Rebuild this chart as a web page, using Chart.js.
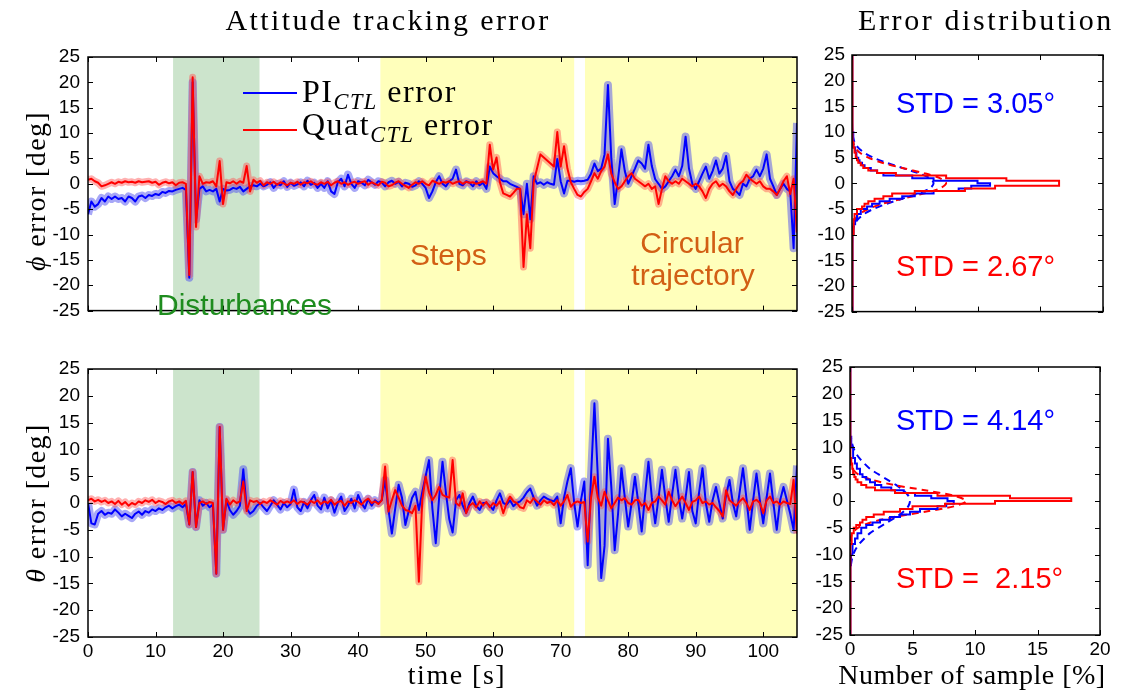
<!DOCTYPE html>
<html>
<head>
<meta charset="utf-8">
<script src="https://cdn.jsdelivr.net/npm/chart.js@4.4.1/dist/chart.umd.min.js"></script>
<style>
body { margin: 0; background: #fff; width: 1122px; height: 693px; position: relative; overflow: hidden; font-family: "Liberation Sans", Arial, sans-serif; }
canvas { position: absolute; }
.t { position: absolute; white-space: nowrap; line-height: 1; }
.serif { font-family: "Liberation Serif", "Times New Roman", serif; color: #000; }
.sans { font-family: "Liberation Sans", Arial, sans-serif; }
sub { font-style: italic; font-size: 70%; vertical-align: -0.3em; line-height: 0; }
.lg { position: absolute; height: 2px; }
</style>
</head>
<body>
<canvas id="phiChart" width="805" height="330" style="left:0;top:0"></canvas>
<canvas id="thetaChart" width="805" height="353" style="left:0;top:340px"></canvas>
<canvas id="phiHist" width="316" height="330" style="left:806px;top:0"></canvas>
<canvas id="thetaHist" width="316" height="353" style="left:806px;top:340px"></canvas>

<div class="t serif" style="left:388px;top:5px;font-size:30px;letter-spacing:2.4px;transform:translateX(-50%)">Attitude tracking error</div>
<div class="t serif" style="left:986px;top:5px;font-size:30px;letter-spacing:2.6px;transform:translateX(-50%)">Error distribution</div>
<div class="t serif" style="left:36px;top:191px;font-size:28px;letter-spacing:1.4px;transform:translate(-50%,-50%) rotate(-90deg)"><i>ϕ</i> error [deg]</div>
<div class="t serif" style="left:36px;top:503px;font-size:28px;letter-spacing:1.4px;transform:translate(-50%,-50%) rotate(-90deg)"><i>θ</i> error [deg]</div>
<div class="t serif" style="left:457px;top:661px;font-size:28px;letter-spacing:1.5px;transform:translateX(-50%)">time [s]</div>
<div class="t serif" style="left:972px;top:661px;font-size:28px;letter-spacing:0.5px;transform:translateX(-50%)">Number of sample [%]</div>

<div class="lg" style="left:243px;top:92px;width:54px;background:#0000ff"></div>
<div class="t serif" style="left:302px;top:75px;font-size:32px;letter-spacing:1.5px">PI<sub>CTL</sub> error</div>
<div class="lg" style="left:243px;top:129px;width:54px;background:#ff0000"></div>
<div class="t serif" style="left:302px;top:108px;font-size:32px;letter-spacing:1.5px">Quat<sub>CTL</sub> error</div>

<div class="t sans" style="left:157px;top:290px;font-size:30px;color:#1e8c1e">Disturbances</div>
<div class="t sans" style="left:410px;top:240px;font-size:30px;color:#d25f14">Steps</div>
<div class="t sans" style="left:692px;top:228px;font-size:30px;color:#d25f14;transform:translateX(-50%)">Circular</div>
<div class="t sans" style="left:693px;top:260px;font-size:30px;color:#d25f14;transform:translateX(-50%)">trajectory</div>

<div class="t sans" style="left:896px;top:89px;font-size:29px;color:#0000ff">STD = 3.05°</div>
<div class="t sans" style="left:896px;top:252px;font-size:29px;color:#ff0000">STD = 2.67°</div>
<div class="t sans" style="left:896px;top:406px;font-size:29px;color:#0000ff">STD = 4.14°</div>
<div class="t sans" style="left:896px;top:564px;font-size:29px;color:#ff0000">STD = &nbsp;2.15°</div>

<script>
// sample grid of the recorded runs
const sampleStep = 0.5;
const sampleCount = 211;

// roll error, PI controller (deg), one row = 5 s
const phiPI = [
  -6, -3.5, -4.5, -4, -2.8, -3.5, -2.5, -3, -2.5, -3,
  -2.8, -3.5, -2.5, -2.8, -3.5, -2.5, -2.3, -2.8, -2.2, -2.4,
  -2, -2.2, -1.6, -1.8, -1.4, -1.5, -1.2, -1.0, -0.8, -1.2,
  -18.5, 20, -7, -1, -0.5, -1.5, -1.2, -1.5, -1.0, -3.5,
  -1.0, -1.3, -1.2, -0.8, -1.0, -0.6, -1.5, -1.0, -0.5, -0.3,
  -0.5, 0, -0.5, -0.2, 0.3, -0.8, 0.0, -0.3, 0.5, -0.6,
  0.2, -0.4, -0.1, 0.3, -0.5, 0.6, -0.2, 0.2, -0.8, 0.0,
  -0.8, 0.5, -1.5, -2.0, 0.3, 1.0, -0.5, 1.8, 0.0, -0.8,
  0.5, 0.2, -0.3, 0.8, 0.3, -0.2, 0.5, 0.3, -0.5, 0.3,
  0.6, 0.0, 0.4, -0.5, 0.2, 0.0, -0.6, -0.3, 0.5, 0.0,
  -0.8, -2.8, -1.5, 0.3, 1.5, 0.0, -0.5, 0.5, 1.0, 2.8,
  0.0, -0.3, 0.5, 0.2, -0.5, 0.5, -0.3, 0.2, -1.0, 3.4,
  2.1, 1.5, 1.0, 0.5, 0.5, 0.0, -0.3, -0.6, -1.0, -6.0,
  0.0, -7.0, 1.5, 0.0, 0.3, -0.2, 0.3, 0.0, -0.2, 4.9,
  0.5, -1.9, 0.6, 0.6, 0.4, 0.6, 0.5, 0.6, 0.8, 2.0,
  4.0, 2.5, 3.0, 5.8, 19.5, 5.0, -4.0, 1.0, 6.8, 2.5,
  0.0, 1.5, 3.0, 4.6, 4.0, 3.0, 7.7, 3.5, 0.9, 0.0,
  -1.0, -0.5, 0.5, 1.5, 2.8, 1.5, 3.5, 9.3, 3.0, 0.0,
  -1.0, 0.5, 2.0, 3.4, 1.0, 2.5, 4.6, 2.0, 3.0, 5.5,
  0.5, -1.0, -1.5, -2.2, 0.0, -0.5, 1.0, 1.5, 2.8, 1.5,
  3.0, 5.8, 1.0, -0.5, -2.2, -1.0, 0.0, -1.0, -1.5, -12.7,
  12
];

// roll error, quaternion controller (deg)
const phiQuat = [
  0.8, 1.0, 0.5, 0.2, -0.5, -0.3, 0.0, 0.3, 0.0, 0.4,
  0.2, 0.5, 0.3, 0.4, 0.2, 0.5, 0.3, 0.4, 0.5, 0.2,
  0.4, -0.2, 0.2, 0.4, 0.1, 0.3, -0.3, 0.2, 0.3, 0.0,
  -18, 21, -8.5, 1.5, 0.0, 0.3, 0.2, 0.5, -0.5, 4.5,
  -4.0, 0.3, 0.1, 0.5, 0.0, 0.5, 0.2, 3.5, -1.5, 0.8,
  0.2, 0.6, -0.3, 0.3, 0.0, 0.4, -0.2, 0.3, 0.1, -0.3,
  0.2, 0.0, 0.4, -0.2, 0.3, 0.1, 0.5, 0.0, -0.2, 0.3,
  0.0, 0.4, -0.3, 0.2, 0.5, 0.0, 0.3, -0.2, 0.2, 0.4,
  0.0, 0.3, 0.5, -0.2, 0.3, 0.0, -0.3, 0.4, 0.2, -0.5,
  -0.3, 0.2, 0.5, 0.0, -0.4, -0.8, -0.2, 0.3, 0.0, 0.5,
  0.0, -0.3, 0.6, 0.3, 0.0, 0.4, 0.2, 0.5, 0.0, 0.3,
  0.5, 0.0, 0.4, 0.2, 0.3, 0.0, 0.2, 0.5, 0.0, 7.7,
  2.8, 5.2, 0.3, -1.9, -2.2, -2.5, -1.8, -1.0, -1.0, -16.4,
  -6.0, -12.7, 0.3, 3.0, 5.8, 5.2, 4.6, 4.0, 3.4, 10.2,
  3.4, 7.4, 3.0, 0.3, -1.0, -2.2, -2.5, -1.6, -1.0, 0.5,
  2.1, 1.0, 2.5, 3.4, 5.8, 2.0, 0.3, -1.0, -0.5, 0.5,
  1.5, 2.1, 1.0, 0.5, 0.0, -0.5, 0.0, -1.0, -0.5, -4.0,
  -1.0, 1.5, 0.5, 0.0, 0.5, 0.0, 1.0, 0.5, 0.0, -0.5,
  0.0, -0.5, -1.5, -2.8, -1.0, 0.0, 0.5, -0.5, 0.0, -0.5,
  -1.5, -2.2, -1.0, 0.0, 0.5, 1.8, 1.0, 0.5, 0.0, 0.5,
  -0.5, -1.0, -1.0, -1.5, -2.2, -1.0, 0.5, 1.5, -2.0, 1.0,
  -9.6
];

// pitch error, PI controller (deg)
const thetaPI = [
  0.0, -3.8, -4.0, -2.0, -1.5, -2.2, -1.8, -2.0, -1.2, -1.8,
  -2.5, -2.0, -2.4, -2.8, -2.0, -1.6, -2.2, -1.5, -1.8, -1.2,
  -1.5, -1.0, -1.3, -0.8, -0.5, -1.0, -0.6, -0.3, -0.8, -0.2,
  -4.0, 5.8, -4.5, 0.5, -0.5, 0.0, -0.8, -0.3, -13.2, 14.2,
  -5.0, 0.5, -1.3, -2.2, -1.5, -0.5, 6.3, -1.0, -2.0, -1.5,
  -0.5, 0.0, -0.8, -1.5, -0.5, 0.5, -0.3, -1.2, 0.0, -0.8,
  -0.2, 2.5, -0.8, -1.5, 0.2, -1.0, 0.5, 1.5, -0.5, -1.2,
  1.0, -1.0, 0.5, -1.8, 0.0, 1.2, -1.5, -0.5, 0.8, -1.0,
  1.5, 0.0, -1.0, 0.8, -0.5, 0.5, 0.0, 0.5, 4.3, -1.3,
  -5.7, -1.0, 3.4, 1.0, -4.1, -1.5, 1.0, 2.1, -1.3, 2.0,
  5.0, 8.0, -1.0, -7.5, 1.0, 7.7, 2.0, -3.0, -5.5, 0.5,
  1.5, -0.5, -1.9, 0.0, 1.2, -0.5, -1.3, 0.0, 0.0, -0.5,
  -1.3, 0.5, 1.8, 0.0, -0.3, 0.5, -0.6, 0.0, 0.3, 1.0,
  2.0, 2.7, 1.0, -0.5, 0.5, 1.2, 0.8, 0.5, 0.3, 1.2,
  -3.8, 1.0, 4.0, 6.5, 0.0, -4.4, 0.5, 4.0, -11.6, 5.0,
  18.6, 5.0, -14.0, -8.0, 12.0, 3.0, -8.8, -2.0, 6.5, 1.0,
  -4.4, 0.0, 4.9, 0.0, -5.3, 1.5, 7.7, 1.0, -3.8, 1.0,
  6.2, 1.0, -3.5, 1.5, 6.2, 1.0, -2.9, 1.0, 5.8, -1.5,
  -3.8, 2.0, 6.5, 0.0, -3.5, 0.5, 3.0, 0.0, -2.9, 1.5,
  4.3, 0.0, -2.5, 2.0, 6.5, 1.0, -5.0, 0.5, 5.5, 0.5,
  -3.8, 1.0, 5.5, 0.0, -5.0, 0.5, 3.0, 0.5, -2.0, -5.0,
  7.0
];

// pitch error, quaternion controller (deg)
const thetaQuat = [
  0.5, 0.8, 0.3, 0.6, 0.2, 0.5, 0.0, 0.3, -0.2, 0.4,
  -0.3, 0.2, -0.5, 0.0, -0.3, 0.3, 0.0, 0.5, 0.2, 0.6,
  0.0, 0.4, 0.2, -0.2, 0.3, 0.5, 0.0, 0.3, -0.2, 0.4,
  -4.0, 5.8, -4.5, 0.0, 0.3, -0.2, 0.2, 0.0, -13.2, 14.2,
  -5.0, 0.8, -0.3, 0.5, 0.0, 0.3, 4.0, -1.5, 0.5, 0.2,
  0.4, -0.2, 0.3, 0.0, 0.5, 0.1, -0.3, 0.4, 0.0, 0.3,
  0.0, 0.5, -0.2, 0.3, 0.1, -0.3, 0.4, 0.0, 0.5, -0.2,
  0.3, 0.0, 0.6, -0.3, 0.2, 0.4, -0.5, 0.3, 0.0, 0.5,
  0.2, -0.3, 0.4, 0.8, 0.0, 0.3, -0.2, 0.5, 6.8, -1.6,
  0.5, 2.4, 1.0, -0.5, -1.3, -1.5, -1.9, -0.5, -14.7, 0.5,
  4.9, 2.0, 0.5, 1.5, 3.0, 1.5, 1.2, 1.0, 8.0, 0.0,
  -0.5, 1.8, -1.9, -0.5, 0.0, -0.8, 0.3, -0.5, 0.2, -0.8,
  0.0, -0.5, 0.3, -1.9, 0.0, 1.2, 0.3, 0.0, -0.8, -1.0,
  0.5, 0.0, 0.9, 0.3, -0.3, 0.5, 0.0, 0.3, -0.4, 0.5,
  -0.5, 0.3, 1.5, -0.7, 0.0, 0.3, 0.0, 0.2, -7.2, 1.0,
  4.9, 1.0, -0.5, 2.1, 0.5, -1.0, 0.0, 1.0, 0.5, 0.9,
  0.0, -0.3, 0.5, 0.6, -0.5, 0.0, -1.3, 0.0, 0.3, 1.2,
  0.5, -0.3, 2.1, 0.5, -0.6, 0.3, 1.2, 0.0, -1.3, 0.2,
  0.5, 1.2, 0.0, 0.3, -0.3, 0.0, -0.8, -1.5, -2.5, 2.4,
  0.5, 0.0, -0.5, 0.3, 0.9, 0.0, -1.3, 0.3, 0.6, 0.0,
  -1.9, 0.5, 1.2, 0.0, 0.3, -0.3, 0.3, 0.0, -0.2, 4.3,
  -5.7
];

// test phases (s)
const phaseStart = [12.6, 43.3, 73.6];
const phaseEnd = [25.4, 72.0, 105];
const phaseColor = ['#cce4cc', '#ffffbb', '#ffffbb'];

// histogram bin edges (deg) and share of samples per bin (%)
const binEdges = [-25, -12, -10, -8, -7, -6, -5, -4.5, -4, -3.5, -3, -2.5, -2, -1.5, -1, -0.5, 0,
  0.5, 1, 1.5, 2, 2.5, 3, 3.5, 4, 4.5, 5, 6, 7, 8, 10, 12, 25];
const phiHistPI = [0.02, 0.05, 0.12, 0.25, 0.4, 0.7, 1.2, 1.6, 2.2, 3.0, 4.0, 5.0, 6.5, 8.5, 9.5, 11.0,
  10.0, 6.5, 4.8, 2.5, 2.0, 1.5, 1.0, 0.8, 0.6, 0.5, 0.35, 0.25, 0.15, 0.08, 0.04, 0.02];
const phiHistQuat = [0.02, 0.05, 0.1, 0.15, 0.2, 0.4, 0.8, 1.0, 1.3, 1.8, 2.5, 3.2, 5.0, 9.0, 11.4, 16.5,
  16.5, 12.3, 7.5, 3.5, 2.0, 1.3, 0.9, 0.7, 0.5, 0.4, 0.3, 0.2, 0.12, 0.07, 0.04, 0.02];
const thetaHistPI = [0.03, 0.08, 0.2, 0.4, 0.6, 0.9, 1.3, 1.8, 2.4, 3.2, 4.0, 4.8, 5.6, 7.0, 7.7, 8.3,
  7.8, 6.5, 5.2, 4.3, 3.3, 2.5, 2.0, 1.6, 1.3, 1.0, 0.8, 0.55, 0.4, 0.25, 0.1, 0.03];
const thetaHistQuat = [0.02, 0.03, 0.05, 0.1, 0.15, 0.3, 0.5, 0.8, 1.0, 1.3, 1.9, 2.7, 4.0, 5.0, 7.6, 11.6,
  17.7, 12.8, 7.0, 3.6, 2.0, 1.3, 0.9, 0.6, 0.45, 0.35, 0.25, 0.18, 0.1, 0.05, 0.03, 0.02];

// normal fits (dashed), read at whole degrees
const fitY = [-12, -11, -10, -9, -8, -7, -6, -5, -4, -3, -2, -1, 0, 1, 2, 3, 4, 5, 6, 7, 8, 9, 10, 11, 12];
const phiFitPI = [0, 0.01, 0.03, 0.085, 0.21, 0.47, 0.95, 1.7, 2.75, 4.0, 5.25, 6.2, 6.5,
  6.2, 5.25, 4.0, 2.75, 1.7, 0.95, 0.47, 0.21, 0.085, 0.03, 0.01, 0];
const phiFitQuat = [0, 0, 0.01, 0.02, 0.08, 0.24, 0.6, 1.3, 2.4, 4.0, 5.7, 7.0, 7.5,
  7.0, 5.7, 4.0, 2.4, 1.3, 0.6, 0.24, 0.08, 0.02, 0.01, 0, 0];
const thetaFitPI = [0.07, 0.14, 0.26, 0.45, 0.75, 1.15, 1.6, 2.26, 2.98, 3.68, 4.27, 4.66, 4.8,
  4.66, 4.27, 3.68, 2.98, 2.26, 1.6, 1.15, 0.75, 0.45, 0.26, 0.14, 0.07];
const thetaFitQuat = [0, 0, 0, 0, 0.01, 0.05, 0.2, 0.63, 1.65, 3.5, 6.0, 8.3, 9.3,
  8.3, 6.0, 3.5, 1.65, 0.63, 0.2, 0.05, 0.01, 0, 0, 0, 0];

const blue = '#0000ff';
const red = '#ff0000';
const tickFont = { family: 'Liberation Sans', size: 19 };

var time = [];
for (let i = 0; i < sampleCount; i++) time.push(i * sampleStep);

function toPoints(values) {
  return values.map((v, i) => ({ x: time[i], y: v }));
}

function stairs(edges, counts) {
  var pts = [];
  counts.forEach((c, i) => {
    pts.push({ x: c, y: edges[i] }, { x: c, y: edges[i + 1] });
  });
  return pts;
}

// coloured background for the test phases
const phasePlugin = {
  id: 'phases',
  beforeDatasetsDraw(chart) {
    const { ctx, chartArea: a, scales } = chart;
    ctx.save();
    for (let i = 0; i < phaseStart.length; i++) {
      const x0 = scales.x.getPixelForValue(phaseStart[i]);
      const x1 = Math.min(scales.x.getPixelForValue(phaseEnd[i]), a.right);
      ctx.fillStyle = phaseColor[i];
      ctx.fillRect(x0, a.top, x1 - x0, a.height);
    }
    ctx.restore();
  }
};

// box round the axes with inward ticks, matlab style
const framePlugin = {
  id: 'frame',
  afterDatasetsDraw(chart) {
    const { ctx, chartArea: a, scales } = chart;
    ctx.save();
    ctx.strokeStyle = '#000';
    ctx.lineWidth = 1;
    ctx.beginPath();
    scales.x.ticks.forEach(t => {
      const px = Math.round(scales.x.getPixelForValue(t.value)) + 0.5;
      ctx.moveTo(px, a.bottom); ctx.lineTo(px, a.bottom - 5);
      ctx.moveTo(px, a.top); ctx.lineTo(px, a.top + 5);
    });
    scales.y.ticks.forEach(t => {
      const py = Math.round(scales.y.getPixelForValue(t.value)) + 0.5;
      ctx.moveTo(a.left, py); ctx.lineTo(a.left + 5, py);
      ctx.moveTo(a.right, py); ctx.lineTo(a.right - 5, py);
    });
    ctx.stroke();
    ctx.lineWidth = 1.5;
    ctx.strokeRect(a.left, a.top, a.width, a.height);
    ctx.restore();
  }
};

function lineSet(values, color, width) {
  return {
    data: toPoints(values), borderColor: color, borderWidth: width,
    pointRadius: 0, tension: 0, borderJoinStyle: 'round', fill: false, clip: 0
  };
}

function seriesChart(id, pi, quat, opts) {
  new Chart(document.getElementById(id), {
    type: 'line',
    data: {
      datasets: [
        lineSet(quat, red, 2),
        lineSet(pi, blue, 2),
        lineSet(quat, 'rgba(255,80,80,0.45)', 7),
        lineSet(pi, 'rgba(80,80,240,0.5)', 8)
      ]
    },
    options: {
      responsive: false, animation: false, parsing: false,
      layout: { padding: { top: opts.top, right: 8, left: 0, bottom: 0 } },
      plugins: { legend: { display: false }, tooltip: { enabled: false } },
      scales: {
        x: {
          type: 'linear', min: 0, max: 105,
          grid: { display: false, drawTicks: false }, border: { display: false },
          ticks: { stepSize: 10, includeBounds: false, display: opts.showX, padding: 3, color: '#000', font: tickFont, maxRotation: 0 },
          afterFit(s) { s.height = opts.xh; }
        },
        y: {
          type: 'linear', min: -25, max: 25,
          grid: { display: false, drawTicks: false }, border: { display: false },
          ticks: { stepSize: 5, padding: 8, color: '#000', font: tickFont },
          afterFit(s) { s.width = 88; }
        }
      }
    },
    plugins: [phasePlugin, framePlugin]
  });
}

function histChart(id, pi, quat, fitPI, fitQuat, opts) {
  const fitPts = vals => vals.map((v, i) => ({ x: v, y: fitY[i] }));
  new Chart(document.getElementById(id), {
    type: 'line',
    data: {
      datasets: [
        { data: stairs(binEdges, quat), borderColor: red, borderWidth: 2, pointRadius: 0 },
        { data: stairs(binEdges, pi), borderColor: blue, borderWidth: 2, pointRadius: 0 },
        { data: fitPts(fitQuat), borderColor: red, borderWidth: 2, borderDash: [7, 5], pointRadius: 0, tension: 0.3 },
        { data: fitPts(fitPI), borderColor: blue, borderWidth: 2, borderDash: [7, 5], pointRadius: 0, tension: 0.3 }
      ]
    },
    options: {
      responsive: false, animation: false, parsing: false,
      layout: { padding: { top: opts.top, right: opts.right, left: 0, bottom: 0 } },
      plugins: { legend: { display: false }, tooltip: { enabled: false } },
      scales: {
        x: {
          type: 'linear', min: 0, max: 20,
          grid: { display: false, drawTicks: false }, border: { display: false },
          ticks: { stepSize: 5, display: opts.showX, padding: 3, color: '#000', font: tickFont, maxRotation: 0 },
          afterFit(s) { s.height = opts.xh; }
        },
        y: {
          type: 'linear', min: -25, max: 25,
          grid: { display: false, drawTicks: false }, border: { display: false },
          ticks: { stepSize: 5, padding: 7, color: '#000', font: tickFont },
          afterFit(s) { s.width = opts.yw; }
        }
      }
    },
    plugins: [framePlugin]
  });
}

seriesChart('phiChart', phiPI, phiQuat, { top: 57, xh: 4, showX: false });
seriesChart('thetaChart', thetaPI, thetaQuat, { top: 29, xh: 56, showX: true });
histChart('phiHist', phiHistPI, phiHistQuat, phiFitPI, phiFitQuat, { top: 55, right: 19, xh: 6, yw: 46, showX: false });
histChart('thetaHist', thetaHistPI, thetaHistQuat, thetaFitPI, thetaFitQuat, { top: 27, right: 22, xh: 58, yw: 44, showX: true });
</script>
</body>
</html>
